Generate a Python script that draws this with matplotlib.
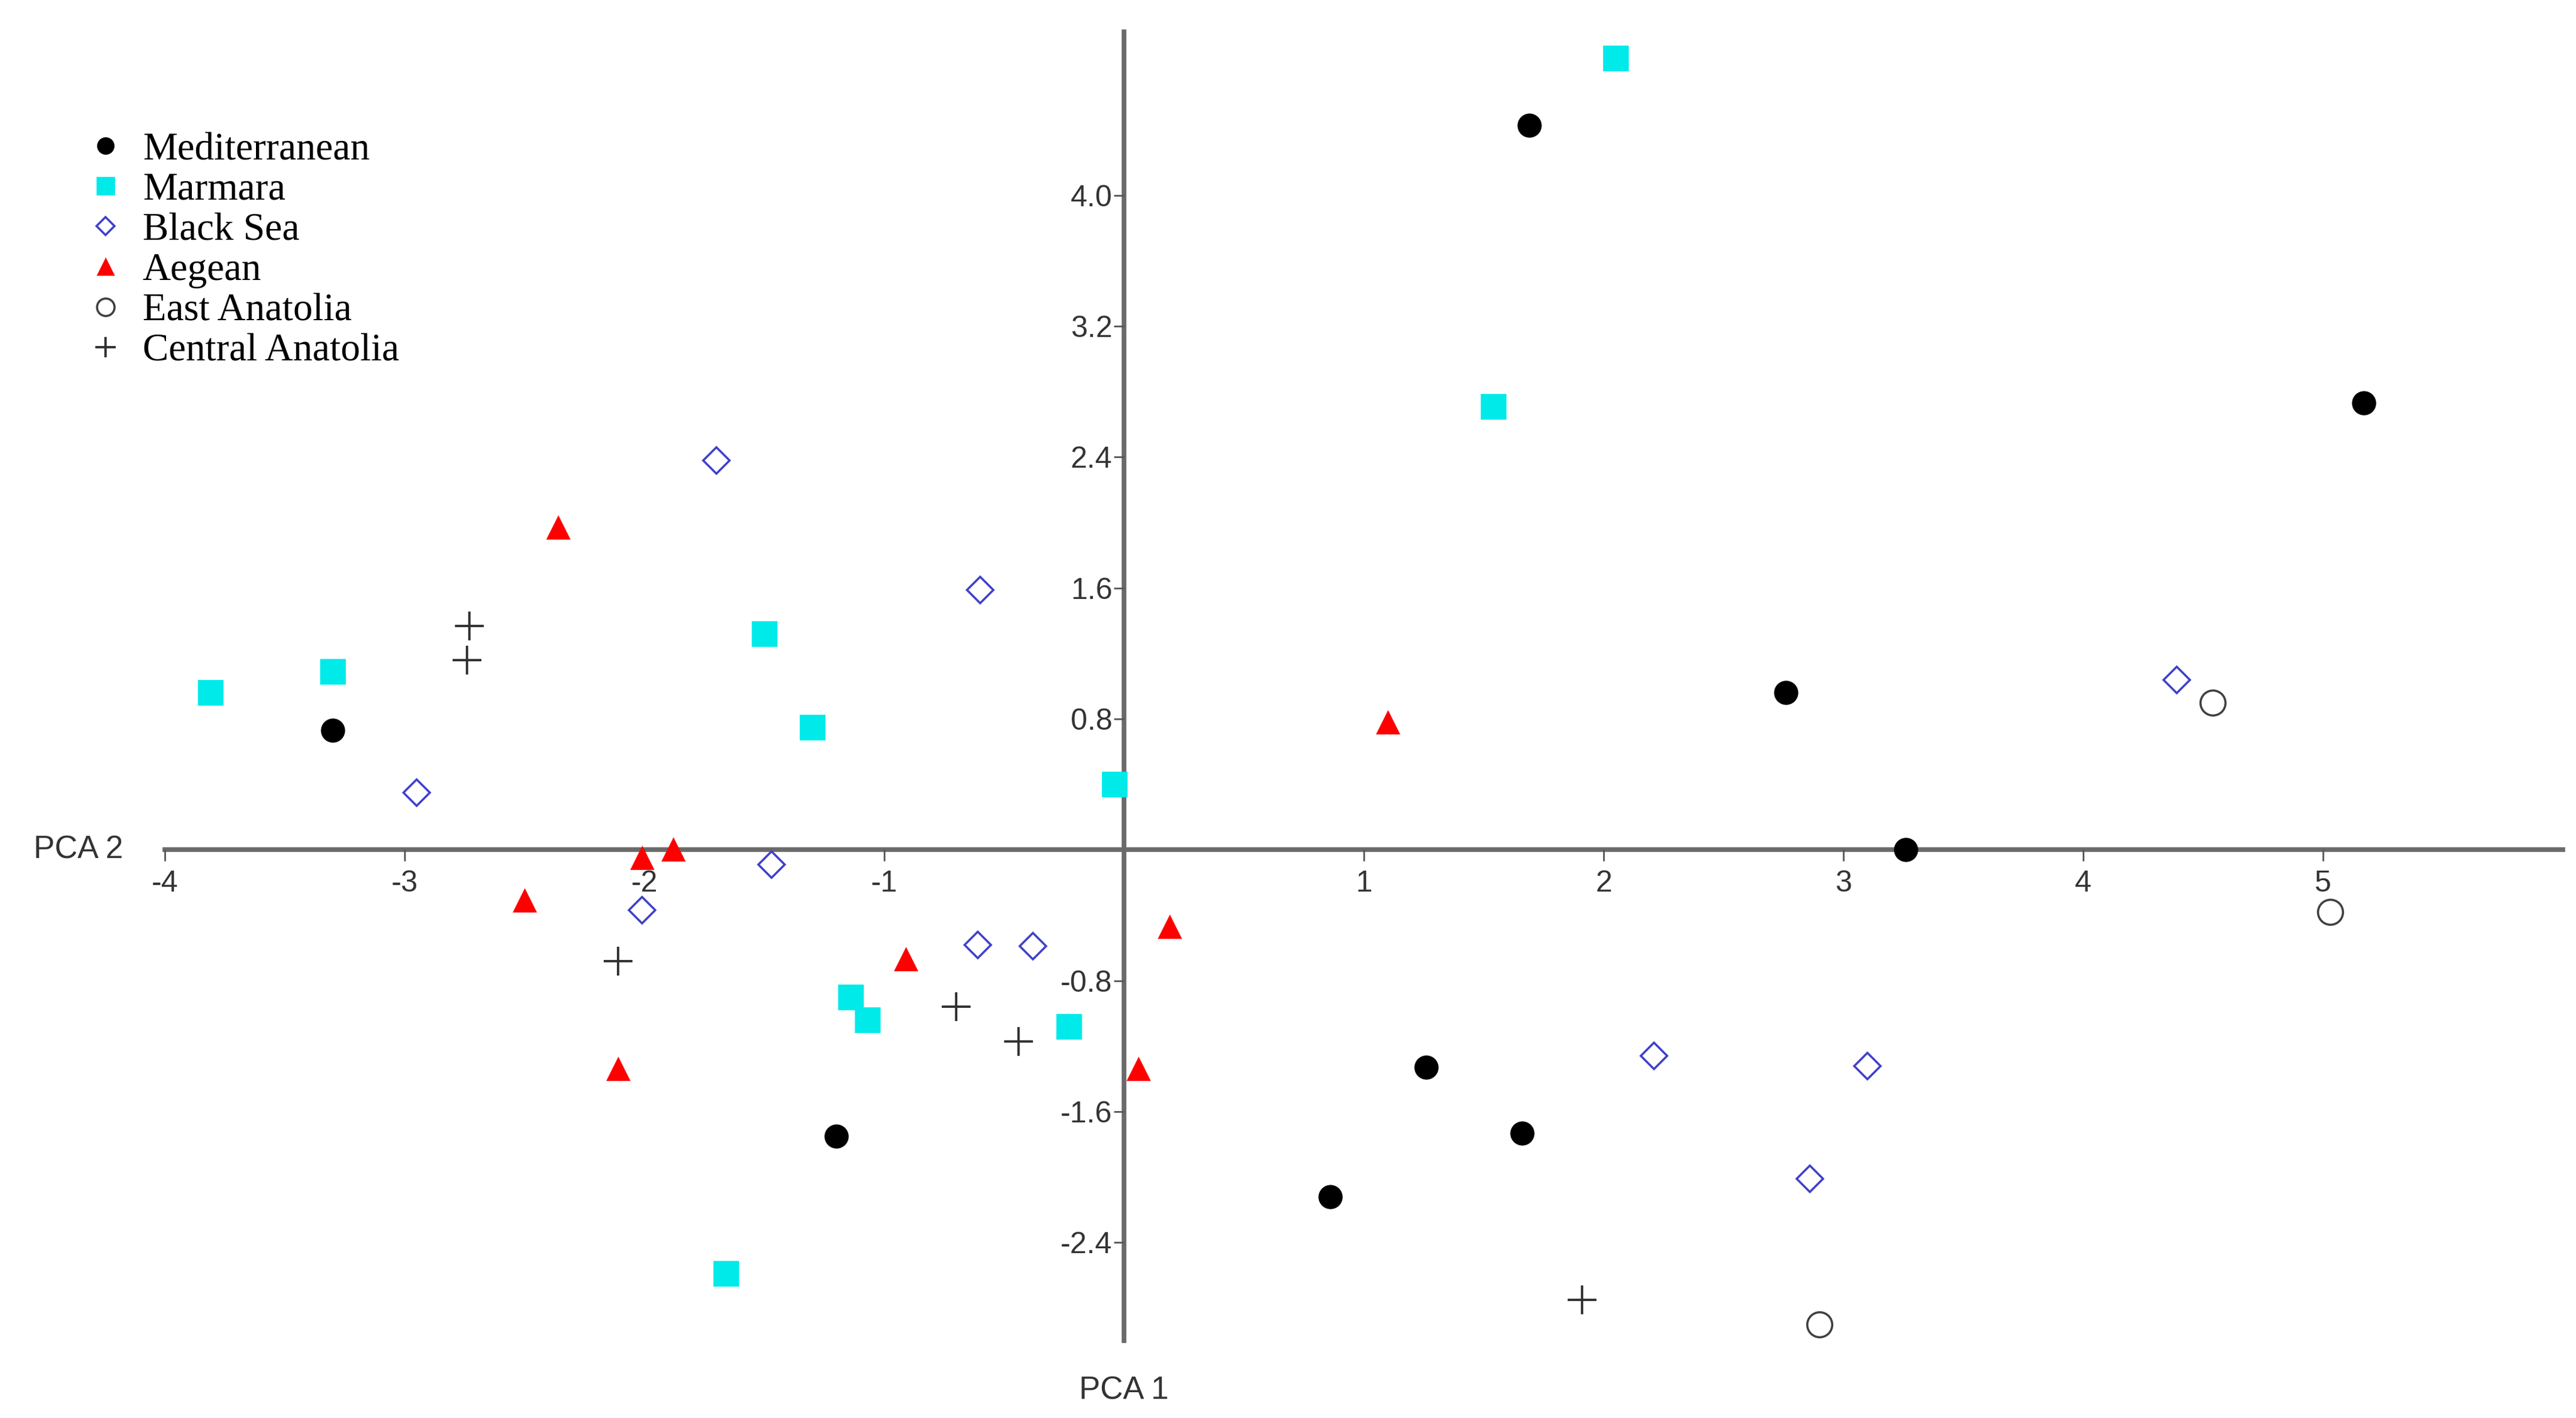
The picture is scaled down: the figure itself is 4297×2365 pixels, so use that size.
import matplotlib
matplotlib.use("Agg")
import matplotlib.pyplot as plt

# PCA scores (PCA 1, PCA 2)
med_x = [1.69, 5.17, 2.76, -3.30, 3.26, 1.26, 1.66, 0.86, -1.20]
med_y = [4.43, 2.73, 0.96, 0.73, 0.00, -1.33, -1.73, -2.12, -1.75]

mar_x = [2.05, 1.54, -1.50, -3.81, -3.30, -1.30, -0.04, -1.14, -1.07, -0.23, -1.66]
mar_y = [4.84, 2.71, 1.32, 0.96, 1.09, 0.75, 0.40, -0.90, -1.04, -1.08, -2.59]

bla_x = [-1.70, -0.60, -2.95, -1.47, -2.01, -0.61, -0.38, 4.39, 2.21, 3.10, 2.86]
bla_y = [2.38, 1.59, 0.35, -0.09, -0.37, -0.58, -0.59, 1.04, -1.26, -1.32, -2.01]

aeg_x = [-2.36, 1.10, -1.88, -2.01, -2.50, -0.91, 0.19, -2.11, 0.06]
aeg_y = [1.97, 0.78, 0.00, -0.05, -0.31, -0.67, -0.47, -1.34, -1.34]

eas_x = [4.54, 5.03, 2.90]
eas_y = [0.90, -0.38, -2.90]

cen_x = [-2.73, -2.74, -2.11, -0.70, -0.44, 1.91]
cen_y = [1.37, 1.16, -0.68, -0.96, -1.17, -2.75]

xticks = [-4, -3, -2, -1, 1, 2, 3, 4, 5]
yticks = [4.0, 3.2, 2.4, 1.6, 0.8, -0.8, -1.6, -2.4]

tick_font = ["Liberation Sans Narrow", "Liberation Sans", "DejaVu Sans"]
legend_font = ["Liberation Serif", "DejaVu Serif"]

fig = plt.figure(figsize=(21.485, 11.825), dpi=200)
ax = fig.add_axes([0.0640, 0.0545, 0.9309, 0.9231])

ax.plot(med_x, med_y, "o", ms=13.5, color="black", mec="black", label="Mediterranean")
ax.plot(mar_x, mar_y, "s", ms=14.5, color="#00eaea", mec="#00eaea", label="Marmara")
ax.plot(bla_x, bla_y, "D", ms=11, mfc="none", mec="#4040cc", mew=1.3, label="Black Sea")
ax.plot(aeg_x, aeg_y, "^", ms=13, color="red", mec="red", label="Aegean")
ax.plot(eas_x, eas_y, "o", ms=15, mfc="none", mec="#404040", mew=1.3, label="East Anatolia")
ax.plot(cen_x, cen_y, "+", ms=17, color="#303030", mew=1.4, label="Central Anatolia")

ax.set_xlim(-4, 6)
ax.set_ylim(-3, 5)

# axes crossing at the origin
for side in ["top", "right"]:
    ax.spines[side].set_visible(False)
ax.spines["left"].set_position(("data", 0))
ax.spines["bottom"].set_position(("data", 0))
for side in ["left", "bottom"]:
    ax.spines[side].set_color("#6a6a6a")
    ax.spines[side].set_linewidth(2.8)
    ax.spines[side].set_zorder(1)

ax.set_xticks(xticks)
ax.set_xticklabels([f"{v:g}" for v in xticks], family=tick_font, fontsize=18, color="#333333")
ax.set_yticks(yticks)
ax.set_yticklabels([f"{v:.1f}" for v in yticks], family=tick_font, fontsize=18, color="#333333")
ax.tick_params(axis="x", direction="out", length=7, width=1, color="#555555", pad=5)
ax.tick_params(axis="y", direction="out", length=6, width=1, color="#555555", pad=1)

ax.text(-0.0173, 0.375, "PCA 2", transform=ax.transAxes, ha="right", va="center",
        family=tick_font, fontsize=19, color="#333333")
ax.text(0.4, -0.038, "PCA 1", transform=ax.transAxes, ha="center", va="center",
        family=tick_font, fontsize=19, color="#333333")

fig.legend(loc="upper left", bbox_to_anchor=(0.0349, 0.907), bbox_transform=fig.transFigure,
           frameon=False, borderpad=0, borderaxespad=0, handlelength=0.8, handletextpad=0.55,
           labelspacing=0.12, markerscale=0.7, prop={"family": legend_font, "size": 23.4})

fig.savefig("out.png", dpi=200)
